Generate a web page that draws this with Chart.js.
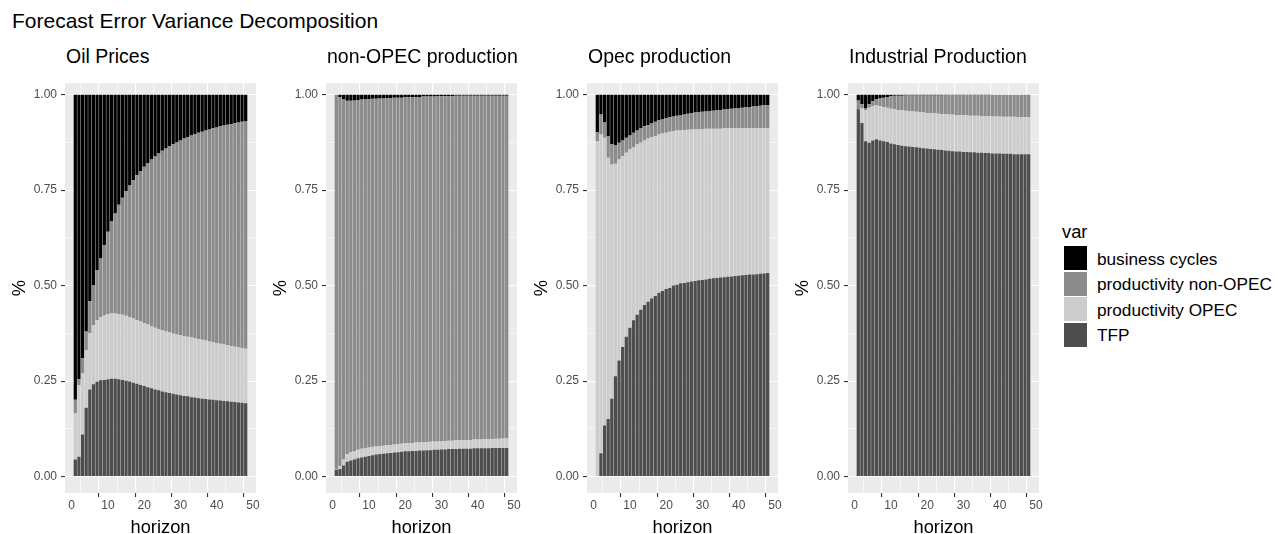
<!DOCTYPE html>
<html>
<head>
<meta charset="utf-8">
<title>Forecast Error Variance Decomposition</title>
<script src="https://cdn.jsdelivr.net/npm/chart.js@4.4.1/dist/chart.umd.min.js"></script>
<style>
    body { margin: 0; background: #ffffff; font-family: "Liberation Sans", Arial, sans-serif; }
    #page { position: relative; width: 1278px; height: 534px; overflow: hidden; }
    .txt { position: absolute; line-height: 1; white-space: nowrap; color: #000; }
    canvas { position: absolute; top: 72px; }
    .key { position: absolute; left: 1064px; width: 23px; height: 24px; }
</style>
</head>
<body>
<div id="page">
    <div class="txt" style="left:12px; top:10.4px; font-size:21px;">Forecast Error Variance Decomposition</div>
</div>

<script>
// Horizons and axis ticks
const horizon = [1,2,3,4,5,6,7,8,9,10,11,12,13,14,15,16,17,18,19,20,21,22,23,24,
                 25,26,27,28,29,30,31,32,33,34,35,36,37,38,39,40,41,42,43,44,45,46,47,48];
const xMajor = [0, 10, 20, 30, 40, 50];
const xMinor = [5, 15, 25, 35, 45];
const yMajor = [0, 0.25, 0.5, 0.75, 1];
const yMinor = [0.125, 0.375, 0.625, 0.875];

const panelTitles = ["Oil Prices", "non-OPEC production", "Opec production", "Industrial Production"];
const varNames = ["business cycles", "productivity non-OPEC", "productivity OPEC", "TFP"];
const varColors = ["#000000", "#8b8b8b", "#cccccc", "#4d4d4d"];

// Oil Prices
const oilBusiness = [0.799,0.745,0.69,0.62,0.54,0.50,0.459,0.429,0.394,0.359,0.332,0.311,0.288,0.27,0.253,0.238,
    0.224,0.211,0.20,0.189,0.179,0.17,0.162,0.154,0.147,0.141,0.135,0.13,0.125,0.12,0.115,0.111,
    0.107,0.103,0.10,0.097,0.094,0.091,0.088,0.086,0.083,0.081,0.079,0.077,0.075,0.073,0.071,0.069];
const oilNonOpec = [0.036,0.015,0.04,0.049,0.085,0.103,0.131,0.153,0.184,0.216,0.241,0.262,0.286,0.306,0.326,0.344,
    0.362,0.379,0.394,0.409,0.423,0.436,0.448,0.46,0.47,0.479,0.488,0.496,0.503,0.51,0.517,0.523,
    0.529,0.535,0.54,0.545,0.55,0.555,0.56,0.564,0.569,0.573,0.577,0.581,0.585,0.589,0.593,0.596];
const oilOpec = [0.12,0.188,0.16,0.151,0.147,0.155,0.162,0.166,0.169,0.17,0.171,0.171,0.171,0.171,0.17,0.169,
    0.168,0.167,0.166,0.165,0.164,0.163,0.162,0.16,0.16,0.159,0.158,0.157,0.157,0.157,0.157,0.156,
    0.156,0.155,0.155,0.154,0.153,0.152,0.151,0.15,0.149,0.148,0.147,0.146,0.145,0.144,0.143,0.143];
const oilTfp = [0.045,0.052,0.11,0.18,0.228,0.242,0.248,0.252,0.253,0.255,0.256,0.256,0.255,0.253,0.251,0.249,
    0.246,0.243,0.24,0.237,0.234,0.231,0.228,0.226,0.223,0.221,0.219,0.217,0.215,0.213,0.211,0.21,
    0.208,0.207,0.205,0.204,0.203,0.202,0.201,0.20,0.199,0.198,0.197,0.196,0.195,0.194,0.193,0.192];

// non-OPEC production
const nonOpecBusiness = [0,0.006,0.013,0.016,0.016,0.015,0.014,0.013,0.013,0.012,0.011,0.011,0.01,0.01,0.009,0.009,
    0.008,0.008,0.008,0.007,0.007,0.006,0.006,0.006,0.005,0.005,0.005,0.005,0.004,0.004,0.004,0.004,
    0.004,0.003,0.003,0.003,0.003,0.003,0.003,0.003,0.003,0.003,0.003,0.003,0.003,0.003,0.003,0.003];
const nonOpecNonOpec = [0.98,0.967,0.942,0.925,0.92,0.918,0.916,0.914,0.913,0.912,0.911,0.91,0.91,0.909,0.909,0.908,
    0.908,0.907,0.906,0.906,0.905,0.906,0.905,0.905,0.905,0.905,0.904,0.903,0.904,0.903,0.903,0.902,
    0.902,0.902,0.902,0.901,0.901,0.901,0.90,0.90,0.90,0.899,0.899,0.899,0.898,0.898,0.897,0.897];
const nonOpecOpec = [0.002,0.007,0.016,0.02,0.022,0.022,0.022,0.023,0.022,0.022,0.022,0.021,0.021,0.021,0.021,0.021,
    0.021,0.021,0.021,0.021,0.022,0.021,0.022,0.021,0.022,0.021,0.022,0.022,0.022,0.022,0.022,0.022,
    0.022,0.023,0.022,0.023,0.023,0.023,0.023,0.023,0.023,0.024,0.024,0.023,0.024,0.024,0.025,0.025];
const nonOpecTfp = [0.018,0.02,0.029,0.039,0.042,0.045,0.048,0.05,0.052,0.054,0.056,0.058,0.059,0.06,0.061,0.062,
    0.063,0.064,0.065,0.066,0.066,0.067,0.067,0.068,0.068,0.069,0.069,0.07,0.07,0.071,0.071,0.072,
    0.072,0.072,0.073,0.073,0.073,0.073,0.074,0.074,0.074,0.074,0.074,0.075,0.075,0.075,0.075,0.075];

// Opec production
const opecBusiness = [0.098,0.052,0.073,0.108,0.13,0.132,0.126,0.12,0.113,0.107,0.10,0.094,0.088,0.083,0.08,0.074,
    0.071,0.067,0.064,0.062,0.059,0.057,0.055,0.053,0.052,0.05,0.049,0.047,0.046,0.045,0.044,0.043,
    0.042,0.041,0.04,0.039,0.038,0.037,0.036,0.035,0.034,0.033,0.032,0.031,0.03,0.029,0.028,0.027];
const opecNonOpec = [0.024,0.052,0.04,0.057,0.053,0.049,0.044,0.041,0.039,0.036,0.037,0.036,0.038,0.037,0.035,0.037,
    0.037,0.037,0.038,0.038,0.038,0.038,0.039,0.041,0.041,0.042,0.042,0.044,0.044,0.045,0.045,0.046,
    0.047,0.048,0.049,0.049,0.05,0.051,0.052,0.053,0.053,0.054,0.055,0.056,0.057,0.058,0.059,0.06];
const opecOpec = [0.878,0.835,0.753,0.684,0.613,0.556,0.526,0.50,0.482,0.467,0.454,0.446,0.437,0.431,0.427,0.423,
    0.419,0.415,0.412,0.409,0.409,0.405,0.404,0.40,0.40,0.399,0.398,0.397,0.396,0.395,0.395,0.393,
    0.392,0.391,0.39,0.39,0.389,0.388,0.387,0.386,0.386,0.385,0.384,0.384,0.383,0.382,0.381,0.38];
const opecTfp = [0,0.061,0.134,0.151,0.204,0.263,0.304,0.339,0.366,0.39,0.409,0.424,0.437,0.449,0.458,0.466,
    0.473,0.481,0.486,0.491,0.494,0.50,0.502,0.506,0.507,0.509,0.511,0.512,0.514,0.515,0.516,0.518,
    0.519,0.52,0.521,0.522,0.523,0.524,0.525,0.526,0.527,0.528,0.529,0.529,0.53,0.531,0.532,0.533];

// Industrial Production
const indBusiness = [0.015,0.025,0.036,0.025,0.017,0.012,0.01,0.008,0.006,0.004,0.003,0.003,0.003,0.002,0.002,0.002,
    0.002,0.002,0.002,0.002,0.002,0.002,0.002,0.002,0.001,0.001,0.001,0.001,0.001,0.001,0.001,0.001,
    0.001,0.001,0.001,0.001,0.001,0,0,0,0,0,0,0,0,0,0,0];
const indNonOpec = [0.023,0.011,0.005,0.009,0.013,0.015,0.02,0.024,0.028,0.033,0.035,0.037,0.038,0.04,0.041,0.042,
    0.043,0.044,0.045,0.046,0.047,0.047,0.048,0.049,0.05,0.051,0.051,0.052,0.052,0.053,0.053,0.054,
    0.054,0.054,0.055,0.055,0.055,0.057,0.057,0.057,0.058,0.058,0.058,0.058,0.059,0.059,0.059,0.059];
const indOpec = [0,0.038,0.081,0.092,0.09,0.09,0.09,0.09,0.09,0.091,0.092,0.092,0.093,0.093,0.093,0.093,
    0.093,0.093,0.093,0.093,0.093,0.094,0.094,0.094,0.095,0.095,0.096,0.096,0.096,0.096,0.096,0.096,
    0.096,0.097,0.096,0.097,0.097,0.097,0.097,0.097,0.097,0.097,0.097,0.098,0.097,0.097,0.097,0.097];
const indTfp = [0.962,0.926,0.878,0.874,0.88,0.883,0.88,0.878,0.876,0.872,0.87,0.868,0.866,0.865,0.864,0.863,
    0.862,0.861,0.86,0.859,0.858,0.857,0.856,0.855,0.854,0.853,0.852,0.851,0.851,0.85,0.85,0.849,
    0.849,0.848,0.848,0.847,0.847,0.846,0.846,0.846,0.845,0.845,0.845,0.844,0.844,0.844,0.844,0.844];

// series per facet, in the order of varNames
const panels = [
    [oilBusiness, oilNonOpec, oilOpec, oilTfp],
    [nonOpecBusiness, nonOpecNonOpec, nonOpecOpec, nonOpecTfp],
    [opecBusiness, opecNonOpec, opecOpec, opecTfp],
    [indBusiness, indNonOpec, indOpec, indTfp]
];

const page = document.getElementById("page");
const FONT = '"Liberation Sans", Arial, sans-serif';
const PANEL_STEP = 261;

function addText(text, left, top, size) {
    let d = document.createElement("div");
    d.className = "txt";
    d.style.left = left + "px";
    d.style.top = top + "px";
    d.style.fontSize = size + "px";
    d.textContent = text;
    page.appendChild(d);
}

// grey panel background like ggplot
const panelBg = {
    id: "panelBg",
    beforeDraw(chart) {
        const {ctx, chartArea: a} = chart;
        ctx.save();
        ctx.fillStyle = "#ebebeb";
        ctx.fillRect(a.left, a.top, a.right - a.left, a.bottom - a.top);
        ctx.restore();
    }
};

// major grid lines white, minor ones thinner; tick marks only on majors
function gridOpts(major) {
    const isMajor = c => !c.tick || major.includes(c.tick.value);
    return {
        color: "#ffffff",
        lineWidth: c => isMajor(c) ? 1.1 : 0.55,
        tickColor: c => isMajor(c) ? "#333333" : "rgba(0,0,0,0)",
        tickWidth: 1.1,
        tickLength: 4,
        drawTicks: true
    };
}

function makePanel(k) {
    let canvas = document.createElement("canvas");
    canvas.width = 272;
    canvas.height = 462;
    canvas.style.left = (PANEL_STEP * k) + "px";
    page.appendChild(canvas);

    // bottom of the stack first: TFP, OPEC, non-OPEC, business cycles
    let datasets = [3, 2, 1, 0].map(v => ({
        label: varNames[v],
        data: horizon.map((h, i) => ({x: h, y: panels[k][v][i]})),
        backgroundColor: varColors[v],
        borderWidth: 0,
        barPercentage: 0.9,
        categoryPercentage: 1.0
    }));

    new Chart(canvas, {
        type: "bar",
        data: {datasets: datasets},
        plugins: [panelBg],
        options: {
            responsive: false,
            animation: false,
            devicePixelRatio: 1,
            layout: {padding: {top: 11, right: 16, left: 0, bottom: 0}},
            plugins: {legend: {display: false}, tooltip: {enabled: false}},
            scales: {
                x: {
                    type: "linear",
                    stacked: true,
                    offset: false,
                    min: -1.845,
                    max: 50.845,
                    afterBuildTicks: s => { s.ticks = xMinor.concat(xMajor).sort((a, b) => a - b).map(v => ({value: v})); },
                    afterFit: s => { s.height = 41; },
                    grid: gridOpts(xMajor),
                    border: {display: false},
                    ticks: {
                        autoSkip: false,
                        maxRotation: 0,
                        padding: 1,
                        color: "#4d4d4d",
                        font: {family: FONT, size: 12},
                        callback: v => xMajor.includes(v) ? String(v) : ""
                    },
                    title: {
                        display: true,
                        text: "horizon",
                        color: "#000000",
                        font: {family: FONT, size: 18.3, lineHeight: 0.83},
                        padding: {top: 0, bottom: -2}
                    }
                },
                y: {
                    stacked: true,
                    min: -0.043,
                    max: 1.03,
                    afterBuildTicks: s => { s.ticks = yMinor.concat(yMajor).sort((a, b) => a - b).map(v => ({value: v})); },
                    afterFit: s => { s.width = 65; },
                    grid: gridOpts(yMajor),
                    border: {display: false},
                    ticks: {
                        autoSkip: false,
                        padding: 4,
                        color: "#4d4d4d",
                        font: {family: FONT, size: 12},
                        callback: v => yMajor.includes(v) ? v.toFixed(2) : ""
                    },
                    title: {
                        display: true,
                        text: "%",
                        color: "#000000",
                        font: {family: FONT, size: 18.3, lineHeight: 1},
                        padding: {top: 11, bottom: 0}
                    }
                }
            }
        }
    });

    addText(panelTitles[k], 66 + PANEL_STEP * k, 47.3, 19.5);
}

for (let k = 0; k < panels.length; k++) makePanel(k);

// Legend
addText("var", 1062, 222.5, 18.3);
varNames.forEach((name, i) => {
    let key = document.createElement("div");
    key.className = "key";
    key.style.top = (246 + 25.5 * i) + "px";
    key.style.background = varColors[i];
    page.appendChild(key);
    addText(name, 1097, 250.9 + 25.5 * i, 17.2);
});
</script>
</body>
</html>
